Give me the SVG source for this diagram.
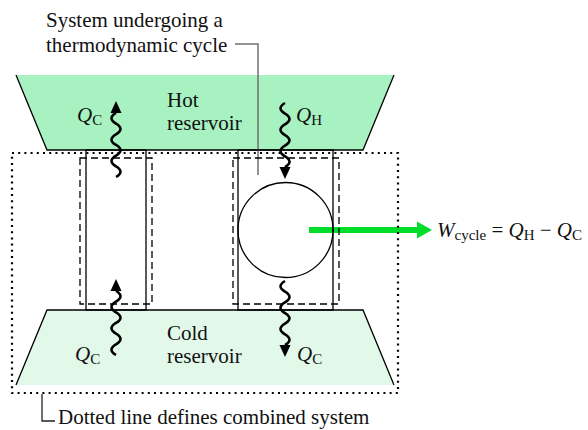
<svg xmlns="http://www.w3.org/2000/svg" xmlns:xlink="http://www.w3.org/1999/xlink" width="588" height="430" viewBox="0 0 588 430">
<style>
text{font-family:"Liberation Serif","Times New Roman",serif;fill:#111}
.t{font-size:21px}
.q{font-size:21px;font-style:italic}
.s{font-size:15px;font-style:normal}
.edge{fill:none;stroke:#000;stroke-width:1.3}
.solid{fill:none;stroke:#000;stroke-width:1.3}
.dash{fill:none;stroke:#000;stroke-width:1.3;stroke-dasharray:7 4}
.dot{fill:none;stroke:#000;stroke-width:2.2;stroke-dasharray:2 4.2}
.wave{fill:none;stroke:#000;stroke-width:2.6}
.lead{fill:none;stroke:#707070;stroke-width:1.5}
</style>
<defs>
<path id="ah" d="M0,0 L-5.5,12 L5.5,12 Z" fill="#000"/>
</defs>

<g id="hot-reservoir">
<polygon points="16,75 394,75 363,150 47,150" fill="#a8f2c2"/>
<path class="edge" d="M16,75 L47,150 L363,150 L394,75"/>
<text class="t" x="167" y="107">Hot</text>
<text class="t" x="167" y="130">reservoir</text>
</g>

<g id="cold-reservoir">
<polygon points="47,310 363,310 394,385 16,385" fill="#e2f8e9"/>
<path class="edge" d="M16,385 L47,310 L363,310 L394,385"/>
<text class="t" x="167" y="340">Cold</text>
<text class="t" x="167" y="363">reservoir</text>
</g>

<g id="connectors">
<line x1="309" y1="230" x2="419" y2="230" stroke="#00dd2b" stroke-width="6"/>
<polygon points="432,230 417,221.5 417,238.5" fill="#00dd2b"/>
<path class="wave" d="M116,177 q9,-5.33 0,-10.67 t0,-10.67 t0,-10.67 t0,-10.67 t0,-10.67 t0,-10.67"/>
<use xlink:href="#ah" transform="translate(116,101)"/>
<path class="wave" d="M116,355 q-9,-5.33 0,-10.67 t0,-10.67 t0,-10.67 t0,-10.67 t0,-10.67 t0,-10.67"/>
<use xlink:href="#ah" transform="translate(116,279)"/>
<path class="wave" d="M285,103 q-9,5.33 0,10.67 t0,10.67 t0,10.67 t0,10.67 t0,10.67 t0,10.67"/>
<use xlink:href="#ah" transform="translate(285,179) rotate(180)"/>
<path class="wave" d="M285,281 q-9,5.33 0,10.67 t0,10.67 t0,10.67 t0,10.67 t0,10.67 t0,10.67"/>
<use xlink:href="#ah" transform="translate(285,357) rotate(180)"/>
<path class="lead" d="M235,44 H258 V175"/>
<path fill="none" stroke="#222" stroke-width="1.3" d="M42,394 V421 H55"/>
</g>

<g id="left-device">
<rect class="solid" x="86" y="150" width="60" height="160"/>
<rect class="dash" x="80" y="158" width="72" height="146"/>
</g>

<g id="cycle-system">
<rect class="solid" x="238" y="150" width="95" height="160"/>
<rect class="dash" x="233" y="158" width="106" height="146"/>
<circle cx="285.5" cy="230" r="47.5" fill="none" stroke="#000" stroke-width="1.3"/>
</g>

<g id="combined-system">
<rect class="dot" x="12" y="153" width="386" height="240"/>
</g>

<g id="labels">
<text class="q" x="77" y="122">Q<tspan class="s" dy="3">C</tspan></text>
<text class="q" x="296" y="122">Q<tspan class="s" dy="3">H</tspan></text>
<text class="q" x="75" y="361">Q<tspan class="s" dy="3">C</tspan></text>
<text class="q" x="297" y="361">Q<tspan class="s" dy="3">C</tspan></text>
<text class="q" x="437" y="237">W<tspan class="s" dy="3">cycle</tspan><tspan style="font-style:normal" dy="-3"> = </tspan>Q<tspan class="s" dy="3">H</tspan><tspan style="font-style:normal" dy="-3"> − </tspan>Q<tspan class="s" dy="3">C</tspan></text>
<text class="t" x="46" y="27">System undergoing a</text>
<text class="t" x="46" y="52">thermodynamic cycle</text>
<text class="t" x="58" y="424">Dotted line defines combined system</text>
</g>
</svg>
